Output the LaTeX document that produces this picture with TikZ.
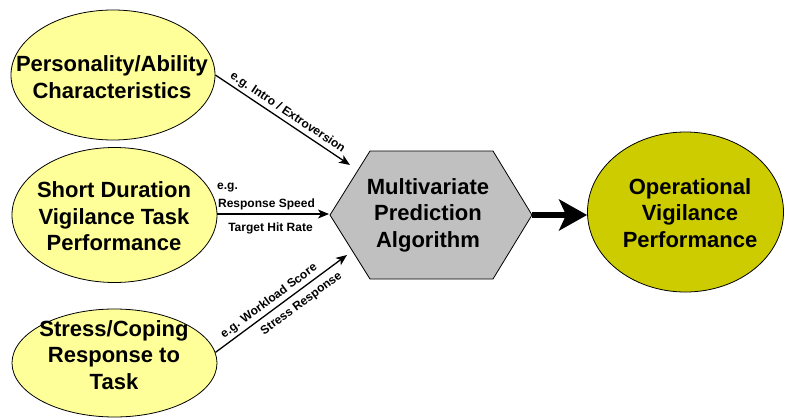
\documentclass[tikz,border=0pt]{standalone}
\usepackage{fontspec}
\setmainfont{Liberation Sans}
\usetikzlibrary{arrows.meta,shapes.geometric,calc}
\definecolor{lightyel}{HTML}{FFFF99}
\definecolor{darkyel}{HTML}{CCCC00}
\definecolor{hexgray}{HTML}{C0C0C0}
\begin{document}
\begin{tikzpicture}[x=1pt,y=-1pt,
  ellbox/.style={ellipse, draw=black, line width=0.8pt, inner sep=0pt},
  maintext/.style={align=center, font=\bfseries\fontsize{22}{26.5}\selectfont, inner sep=0pt},
  smalltext/.style={font=\bfseries\fontsize{12}{14}\selectfont, inner sep=2.5pt},
  conn/.style={line width=1.3pt, -{Stealth[length=11pt,width=9pt,inset=3pt]}},
  bigconn/.style={line width=6pt, -{Stealth[length=28pt,width=31pt,inset=7pt]}}
]
\useasboundingbox[fill=white] (0,0) rectangle (785,418);

% input ellipses
\node[ellbox, fill=lightyel, minimum width=204pt, minimum height=130pt] (e1) at (113,75) {};
\node[maintext] (e1t) at (112,77) {Personality/Ability\\Characteristics};

\node[ellbox, fill=lightyel, minimum width=205pt, minimum height=135pt] (e2) at (114.5,215) {};
\node[maintext] (e2t) at (114,216.5) {Short Duration\\Vigilance Task\\Performance};

\node[ellbox, fill=lightyel, minimum width=205pt, minimum height=108pt] (e3) at (114.5,363) {};
\node[maintext] (e3t) at (114,355) {Stress/Coping\\Response to\\Task};

% output ellipse
\node[ellbox, fill=darkyel, minimum width=196pt, minimum height=160pt] (e4) at (685.5,212) {};
\node[maintext] (e4t) at (690,213) {Operational\\Vigilance\\Performance};

% hexagon
\coordinate (hW) at (330,215);
\coordinate (hNW) at (370,151);
\coordinate (hNE) at (493,151);
\coordinate (hE) at (532,215);
\coordinate (hSE) at (493,279);
\coordinate (hSW) at (370,279);
\draw[fill=hexgray, line width=0.8pt, line join=miter] (hW) -- (hNW) -- (hNE) -- (hE) -- (hSE) -- (hSW) -- cycle;
\node[maintext] (hex) at (428,215) {Multivariate\\Prediction\\Algorithm};

% arrow end points
\coordinate (t1) at (350,165);
\coordinate (t2) at (329,214);
\coordinate (t3) at (347,255);

\draw[conn] (e1.east) -- (t1)
  node[smalltext, sloped, above, pos=0.5] (l1) {e.g. Intro / Extroversion};

\draw[conn] (e2.east |- t2) -- (t2);
\node[smalltext, anchor=west, inner sep=0pt] (l2a) at (217,188) {e.g.};
\node[smalltext, inner sep=0pt] (l2b) at (266.5,204) {Response Speed};
\node[smalltext, inner sep=0pt] (l2c) at (270.5,228) {Target Hit Rate};

\draw[conn] (e3.6) -- (t3)
  node[smalltext, sloped, above, pos=0.45, inner sep=3pt] (l3a) {e.g. Workload Score}
  node[smalltext, sloped, below, pos=0.6, inner sep=6pt] (l3b) {Stress Response};

% big arrow
\draw[bigconn] (hE) -- (hE -| e4.west);
\end{tikzpicture}
\end{document}
